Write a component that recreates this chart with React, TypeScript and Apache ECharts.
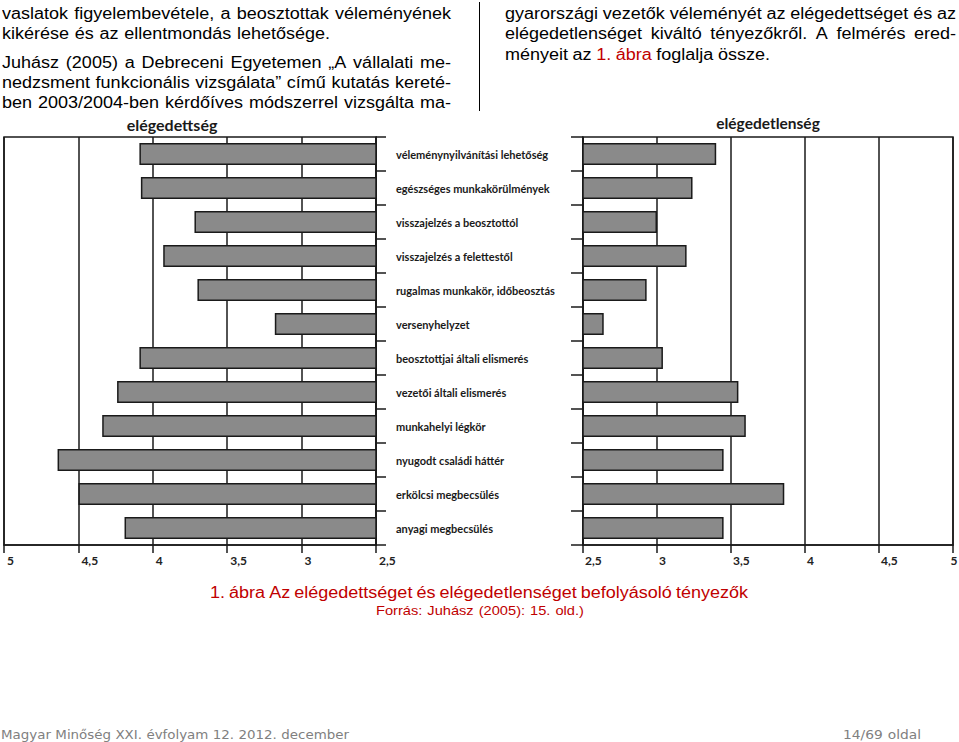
import React, { useEffect, useRef } from "react";
import * as echarts from "echarts";

const categories = [
  "véleménynyilvánítási lehetőség",
  "egészséges munkakörülmények",
  "visszajelzés a beosztottól",
  "visszajelzés a felettestől",
  "rugalmas munkakör, időbeosztás",
  "versenyhelyzet",
  "beosztottjai általi elismerés",
  "vezetői általi elismerés",
  "munkahelyi légkör",
  "nyugodt családi háttér",
  "erkölcsi megbecsülés",
  "anyagi megbecsülés",
];
const satisfaction = [4.09, 4.08, 3.72, 3.93, 3.7, 3.18, 4.09, 4.24, 4.34, 4.64, 4.5, 4.19];
const dissatisfaction = [3.4, 3.24, 3.0, 3.2, 2.93, 2.64, 3.04, 3.55, 3.6, 3.45, 3.86, 3.45];
const tickValues = [2.5, 3, 3.5, 4, 4.5, 5];
const tickLabels = ["2,5", "3", "3,5", "4", "4,5", "5"];
const leftTitle = "elégedettség";
const rightTitle = "elégedetlenség";

const INK = "#1a1a1a";
const BAR = "#8a8a8a";
const RED = "#c00000";

type Word = string | { t: string; c: string };

function Line(props: {
  words: Word[];
  x: number;
  cy: number;
  w: number;
  size: number;
  sx: number;
  color?: string;
  font?: string;
}) {
  const { words, x, cy, w, size, sx, color = "#000", font = "'Liberation Sans', Arial, sans-serif" } = props;
  const lh = Math.round(size * 1.3);
  return (
    <div
      style={{
        position: "absolute",
        left: x,
        top: cy - lh / 2,
        width: w / sx,
        height: lh,
        lineHeight: lh + "px",
        display: "flex",
        justifyContent: "space-between",
        transform: `scaleX(${sx})`,
        transformOrigin: "0 0",
        fontFamily: font,
        fontSize: size,
        color,
        whiteSpace: "nowrap",
      }}
    >
      {words.map((wd, i) =>
        typeof wd === "string" ? (
          <span key={i}>{wd}</span>
        ) : (
          <span key={i} style={{ color: wd.c }}>
            {wd.t}
          </span>
        )
      )}
    </div>
  );
}

const split = (s: string): Word[] => s.split(" ");

export default function App() {
  const ref = useRef<HTMLDivElement>(null);
  useEffect(() => {
    if (!ref.current) return;
    const chart = echarts.init(ref.current, null, { renderer: "svg" });
    const lineStyle = { color: INK, width: 1.5 };
    const fmt = (v: number) => {
      const i = tickValues.findIndex((t) => Math.abs(t - v) < 1e-6);
      return i >= 0 ? tickLabels[i] : String(v);
    };
    const labelCommon = {
      formatter: fmt,
      fontFamily: "Lato",
      fontWeight: "bold" as const,
      fontSize: 12,
      color: "#222",
      margin: 9,
      align: "left" as const,
      padding: [0, 0, 0, 3],
    };
    const xCommon = {
      type: "value" as const,
      min: 2.5,
      max: 5,
      interval: 0.5,
      axisLine: { show: true, lineStyle },
      axisTick: { show: true, length: 8, lineStyle },
      splitLine: { show: true, lineStyle },
    };
    const barStyle = { color: BAR, borderColor: INK, borderWidth: 1.5 };
    const gridCommon = {
      top: 137,
      height: 408,
      show: true,
      borderColor: INK,
      borderWidth: 1.5,
      containLabel: false,
      outerBoundsMode: "none",
    };
    chart.setOption({
      animation: false,
      backgroundColor: "#fff",
      grid: [
        { ...gridCommon, left: 4, width: 372 },
        { ...gridCommon, left: 583, width: 370 },
      ],
      xAxis: [
        { ...xCommon, gridIndex: 0, inverse: true, position: "bottom", axisLabel: labelCommon },
        {
          ...xCommon,
          gridIndex: 1,
          inverse: false,
          position: "bottom",
          axisLabel: { ...labelCommon, alignMaxLabel: "center", padding: [0, 0, 0, 2] },
        },
      ],
      yAxis: [
        {
          gridIndex: 0,
          type: "category",
          data: categories,
          inverse: true,
          position: "right",
          axisLine: { show: true, lineStyle },
          axisTick: { show: true, length: 10, lineStyle },
          axisLabel: {
            show: true,
            margin: 20,
            fontFamily: "Lato",
            fontWeight: "bold",
            fontSize: 11,
            color: INK,
            align: "left",
            padding: [8, 0, 0, 0],
          },
        },
        {
          gridIndex: 1,
          type: "category",
          data: categories,
          inverse: true,
          position: "left",
          axisLine: { show: true, lineStyle },
          axisTick: { show: true, length: 12, lineStyle },
          axisLabel: { show: false },
        },
      ],
      series: [
        { type: "bar", xAxisIndex: 0, yAxisIndex: 0, data: satisfaction, barWidth: 22, itemStyle: barStyle, clip: true },
        { type: "bar", xAxisIndex: 1, yAxisIndex: 1, data: dissatisfaction, barWidth: 22, itemStyle: barStyle, clip: true },
      ],
      graphic: [
        {
          type: "text",
          x: 172,
          y: 124,
          style: { text: leftTitle, fontFamily: "Lato", fontWeight: "bold", fontSize: 16, fill: INK, align: "center", verticalAlign: "middle" },
        },
        {
          type: "text",
          x: 768,
          y: 123,
          style: { text: rightTitle, fontFamily: "Lato", fontWeight: "bold", fontSize: 15.5, fill: INK, align: "center", verticalAlign: "middle" },
        },
      ],
    });
    return () => chart.dispose();
  }, []);

  const S = 16;
  const SX = 1.125;
  const FOOT = "'DejaVu Sans', Verdana, sans-serif";
  return (
    <div style={{ position: "absolute", left: 0, top: 0, width: 959, height: 742, background: "#fff", overflow: "hidden" }}>
      <div ref={ref} style={{ position: "absolute", left: 0, top: 0, width: 959, height: 742 }} />
      <Line words={split("vaslatok figyelembevétele, a beosztottak véleményének")} x={2} cy={13} w={449} size={S} sx={SX} />
      <Line words={split("kikérése és az ellentmondás lehetősége.")} x={2} cy={33} w={328} size={S} sx={SX} />
      <Line words={split("Juhász (2005) a Debreceni Egyetemen „A vállalati me-")} x={2} cy={62} w={449} size={S} sx={SX} />
      <Line words={split("nedzsment funkcionális vizsgálata” című kutatás kereté-")} x={2} cy={82} w={449} size={S} sx={SX} />
      <Line words={split("ben 2003/2004-ben kérdőíves módszerrel vizsgálta ma-")} x={2} cy={102} w={449} size={S} sx={SX} />
      <div style={{ position: "absolute", left: 479, top: 2, width: 1, height: 109, background: "#000" }} />
      <Line words={split("gyarországi vezetők véleményét az elégedettséget és az")} x={505} cy={13} w={451} size={S} sx={SX} />
      <Line words={split("elégedetlenséget kiváltó tényezőkről. A felmérés ered-")} x={505} cy={33} w={451} size={S} sx={SX} />
      <Line
        words={["ményeit", "az", { t: "1.", c: RED }, { t: "ábra", c: RED }, "foglalja", "össze."]}
        x={505}
        cy={54}
        w={265}
        size={S}
        sx={SX}
      />
      <Line words={split("1. ábra Az elégedettséget és elégedetlenséget befolyásoló tényezők")} x={210} cy={592} w={538} size={S} sx={SX} color={RED} />
      <Line words={split("Forrás: Juhász (2005): 15. old.)")} x={376} cy={610} w={208} size={13} sx={SX} color={RED} />
      <Line words={split("Magyar Minőség XXI. évfolyam 12. 2012. december")} x={1} cy={734} w={348} size={13} sx={1.03} color="#808080" font={FOOT} />
      <Line words={split("14/69 oldal")} x={843} cy={734} w={78} size={13} sx={1.06} color="#808080" font={FOOT} />
    </div>
  );
}
